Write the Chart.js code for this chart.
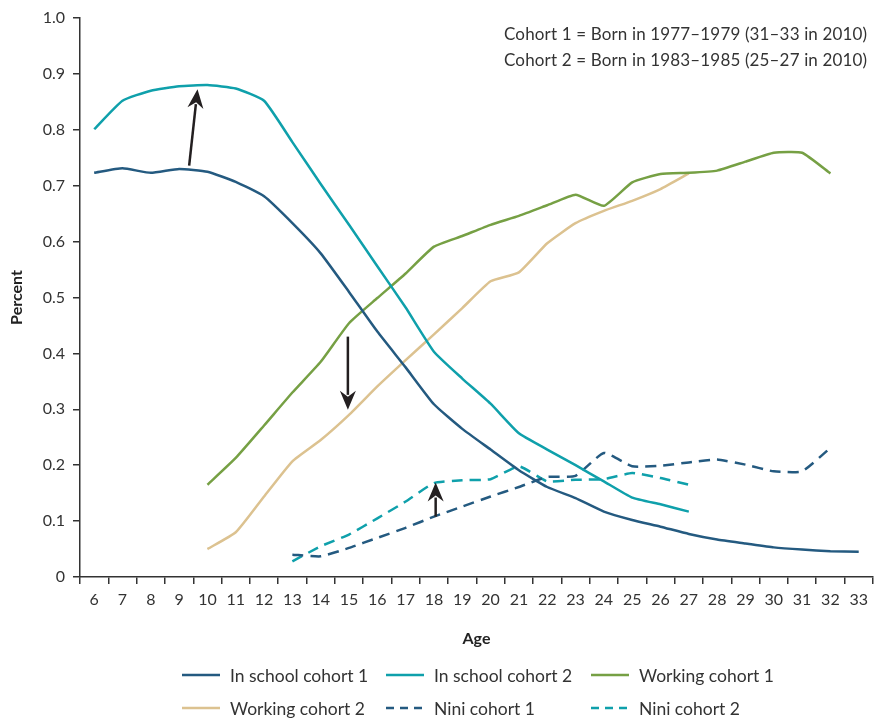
<!DOCTYPE html>
<html>
<head>
<meta charset="utf-8">
<script src="https://cdn.jsdelivr.net/npm/chart.js@4"></script>
<style>
  html, body { margin: 0; padding: 0; background: #fff; }
  #wrap { position: relative; width: 874px; height: 719px; overflow: hidden; font-family: Lato, "Noto Sans", sans-serif; color: #333; }
  #c { position: absolute; left: 0; top: 0; }
  .note { position: absolute; left: 504px; font-size: 17px; letter-spacing: 0.15px; white-space: nowrap; color: #333; line-height: 20px; }
  .leg { position: absolute; display: flex; align-items: center; font-size: 17.5px; white-space: nowrap; color: #333; }
  .leg svg { margin-right: 10px; }
</style>
</head>
<body>
<div id="wrap">
  <canvas id="c" width="874" height="719"></canvas>
  <div class="note" style="top:24px">Cohort 1 = Born in 1977–1979 (31–33 in 2010)</div>
  <div class="note" style="top:50px">Cohort 2 = Born in 1983–1985 (25–27 in 2010)</div>
  <div id="legend"></div>
</div>
<script>
// ---- data ----
const ages = [6,7,8,9,10,11,12,13,14,15,16,17,18,19,20,21,22,23,24,25,26,27,28,29,30,31,32,33];
const inSchool1 = [0.723,0.731,0.723,0.730,0.725,0.707,0.681,0.633,0.579,0.510,0.439,0.375,0.309,0.265,0.228,0.191,0.161,0.141,0.117,0.102,0.090,0.077,0.067,0.060,0.053,0.049,0.046,0.045];
const inSchool2 = [0.801,0.852,0.870,0.878,0.880,0.874,0.852,0.778,0.703,0.630,0.556,0.482,0.403,0.355,0.310,0.257,0.228,0.200,0.171,0.142,0.130,0.117,null,null,null,null,null,null];
const working1 = [null,null,null,null,0.165,0.213,0.271,0.330,0.385,0.454,0.499,0.543,0.591,0.610,0.630,0.646,0.665,0.684,0.664,0.706,0.721,0.723,0.727,0.743,0.759,0.759,0.722,null];
const working2 = [null,null,null,null,0.050,0.080,0.144,0.207,0.245,0.290,0.341,0.388,0.434,0.481,0.529,0.545,0.597,0.633,0.655,0.673,0.694,0.722,null,null,null,null,null,null];
const nini1 = [null,null,null,null,null,null,null,0.040,0.037,0.052,0.070,0.088,0.108,0.126,0.144,0.161,0.179,0.181,0.222,0.198,0.199,0.205,0.210,0.201,0.189,0.189,0.231,null];
const nini2 = [null,null,null,null,null,null,null,0.028,0.055,0.076,0.105,0.135,0.168,0.173,0.175,0.198,0.171,0.174,0.175,0.186,0.177,0.165,null,null,null,null,null,null];
const seriesNames = ['In school cohort 1','In school cohort 2','Working cohort 1','Working cohort 2','Nini cohort 1','Nini cohort 2'];
const yTicks = [0,0.1,0.2,0.3,0.4,0.5,0.6,0.7,0.8,0.9,1.0];
// arrows: from (age, value) to (age, value)
const arrowFromAge = [9.355, 14.96, 18.06];
const arrowFromVal = [0.736, 0.430, 0.108];
const arrowToAge   = [9.650, 14.96, 18.06];
const arrowToVal   = [0.8725, 0.299, 0.169];

// ---- styles ----
const DARK = '#245a80', TEAL = '#0fa0ab', GREEN = '#76a044', TAN = '#dcc290';
const FONT = 'Lato, "Noto Sans", sans-serif';
const styles = [
  {color: DARK, dash: []},
  {color: TEAL, dash: []},
  {color: GREEN, dash: []},
  {color: TAN, dash: []},
  {color: DARK, dash: [11, 7]},
  {color: TEAL, dash: [11, 7]},
];
const values = [inSchool1, inSchool2, working1, working2, nini1, nini2];

const datasets = values.map((v, i) => ({
  label: seriesNames[i],
  data: v,
  borderColor: styles[i].color,
  backgroundColor: styles[i].color,
  borderDash: styles[i].dash,
  borderWidth: 2.5,
  pointRadius: 0,
  pointHoverRadius: 0,
  tension: 0.15,
  fill: false,
  spanGaps: false,
}));

const arrowPlugin = {
  id: 'arrows',
  afterDatasetsDraw(chart) {
    const ctx = chart.ctx, xs = chart.scales.x, ys = chart.scales.y;
    ctx.save();
    ctx.strokeStyle = '#231f20';
    ctx.fillStyle = '#231f20';
    ctx.lineWidth = 2.5;
    for (let i = 0; i < arrowFromAge.length; i++) {
      const x0 = xs.getPixelForValue(arrowFromAge[i] - ages[0]);
      const y0 = ys.getPixelForValue(arrowFromVal[i]);
      const x1 = xs.getPixelForValue(arrowToAge[i] - ages[0]);
      const y1 = ys.getPixelForValue(arrowToVal[i]);
      const ang = Math.atan2(y1 - y0, x1 - x0);
      const headLen = 19, headW = 8;
      const bx = x1 - headLen * Math.cos(ang), by = y1 - headLen * Math.sin(ang);
      ctx.beginPath();
      ctx.moveTo(x0, y0);
      ctx.lineTo(x1 - (headLen - 4) * Math.cos(ang), y1 - (headLen - 4) * Math.sin(ang));
      ctx.stroke();
      ctx.beginPath();
      ctx.moveTo(x1, y1);
      ctx.lineTo(bx + headW * Math.sin(ang), by - headW * Math.cos(ang));
      ctx.lineTo(x1 - (headLen - 6) * Math.cos(ang), y1 - (headLen - 6) * Math.sin(ang));
      ctx.lineTo(bx - headW * Math.sin(ang), by + headW * Math.cos(ang));
      ctx.closePath();
      ctx.fill();
    }
    ctx.restore();
  }
};

new Chart(document.getElementById('c'), {
  type: 'line',
  data: { labels: ages.map(String), datasets },
  options: {
    responsive: false,
    animation: false,
    events: [],
    layout: { padding: { top: 18, right: 0, bottom: 68, left: 0 } },
    plugins: { legend: { display: false }, tooltip: { enabled: false } },
    scales: {
      x: {
        type: 'category',
        offset: true,
        grid: { display: true, drawOnChartArea: false, drawTicks: true, tickLength: 7, offset: true, color: '#333', lineWidth: 1.5 },
        border: { display: true, color: '#333', width: 1.5 },
        ticks: { color: '#333', font: { family: FONT, size: 16 }, padding: 6, maxRotation: 0, autoSkip: false },
        title: { display: true, text: 'Age', color: '#222', font: { family: FONT, size: 16, weight: 'bold' }, padding: { top: 4, bottom: 3 } },
        afterFit(s) { s.height = 74; }
      },
      y: {
        min: 0, max: 1.0,
        afterBuildTicks(s) { s.ticks = yTicks.map(v => ({ value: v })); },
        grid: { display: true, drawOnChartArea: false, drawTicks: true, tickLength: 7, color: '#333', lineWidth: 1.5 },
        border: { display: true, color: '#333', width: 1.5 },
        ticks: { color: '#333', font: { family: FONT, size: 16 }, padding: 8, callback: v => v === 0 ? '0' : v.toFixed(1) },
        title: { display: true, text: 'Percent', color: '#222', font: { family: FONT, size: 16, weight: 'bold' }, padding: { top: 7, bottom: 0 } },
        afterFit(s) { s.width = 80; }
      }
    }
  },
  plugins: [arrowPlugin]
});

// ---- HTML legend ----
const legCols = [182, 386, 591];
const legRows = [675, 708];
const legend = document.getElementById('legend');
seriesNames.forEach((name, i) => {
  const d = document.createElement('div');
  d.className = 'leg';
  d.style.left = legCols[i % 3] + 'px';
  d.style.top = (legRows[Math.floor(i / 3)] - 11) + 'px';
  d.style.height = '22px';
  const dash = styles[i].dash.length ? 'stroke-dasharray="8,6"' : '';
  d.innerHTML = '<svg width="38" height="6"><line x1="0" y1="3" x2="38" y2="3" stroke="' + styles[i].color + '" stroke-width="2.5" ' + dash + '/></svg><span>' + name + '</span>';
  legend.appendChild(d);
});
</script>
</body>
</html>
